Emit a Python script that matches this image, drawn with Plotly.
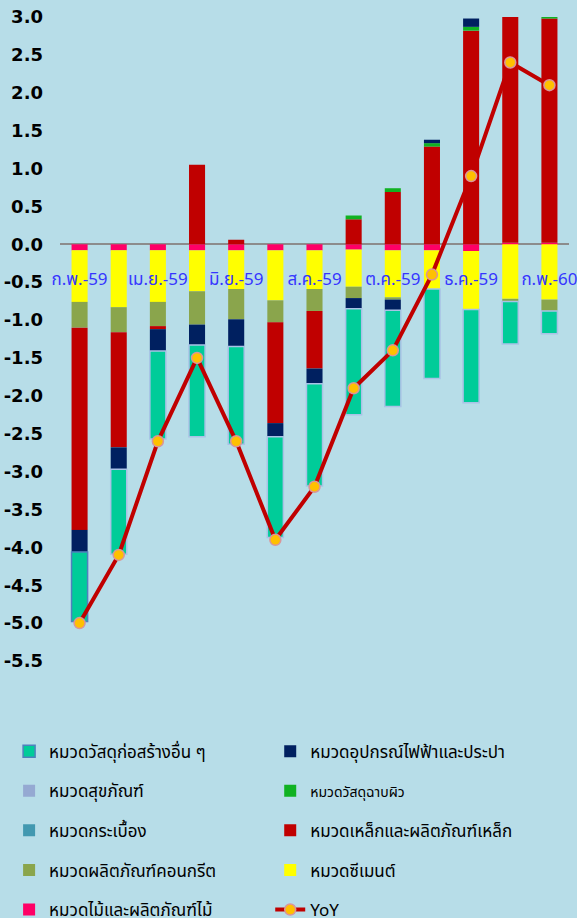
import plotly.graph_objects as go

months = ['ก.พ.-59', 'มี.ค.-59', 'เม.ย.-59', 'พ.ค.-59', 'มิ.ย.-59', 'ก.ค.-59', 'ส.ค.-59',
          'ก.ย.-59', 'ต.ค.-59', 'พ.ย.-59', 'ธ.ค.-59', 'ม.ค.-60', 'ก.พ.-60']
tick_months = ['ก.พ.-59', 'เม.ย.-59', 'มิ.ย.-59', 'ส.ค.-59', 'ต.ค.-59', 'ธ.ค.-59', 'ก.พ.-60']

wood = [-0.08, -0.08, -0.08, -0.08, -0.08, -0.08, -0.08, -0.07, -0.08, -0.08, -0.09, 0.02, 0.02]
cement = [-0.68, -0.75, -0.68, -0.54, -0.51, -0.66, -0.51, -0.49, -0.62, -0.51, -0.77, -0.72, -0.73]
concrete = [-0.34, -0.33, -0.32, -0.44, -0.40, -0.29, -0.29, -0.15, -0.03, 0.0, 0.0, -0.035, -0.15]
steel = [-2.67, -1.52, -0.04, 1.05, 0.06, -1.33, -0.76, 0.33, 0.69, 1.29, 2.82, 3.10, 2.96]
tile = [0, 0, 0, 0, 0, 0, 0, 0, 0, 0, 0, 0, 0]
coating = [0, 0, 0, 0, 0, 0, 0, 0.05, 0.05, 0.045, 0.05, 0, 0.06]
sanitary = [0, 0, 0, 0, 0, 0, 0, 0, 0, 0, 0, 0, 0]
electric = [-0.29, -0.29, -0.29, -0.27, -0.36, -0.18, -0.20, -0.14, -0.14, 0.045, 0.11, 0, 0]
other = [-0.92, -1.12, -1.16, -1.21, -1.29, -1.33, -1.35, -1.40, -1.27, -1.18, -1.23, -0.56, -0.30]
yoy = [-5.0, -4.1, -2.6, -1.5, -2.6, -3.9, -3.2, -1.9, -1.4, -0.4, 0.9, 2.4, 2.1]

y_ticks = [3.0, 2.5, 2.0, 1.5, 1.0, 0.5, 0.0, -0.5, -1.0, -1.5, -2.0, -2.5, -3.0, -3.5, -4.0, -4.5, -5.0, -5.5]

thai_font = "Noto Sans Thai, Noto Sans, sans-serif"
BG = '#b7dde8'

series = [
    # name, values, colour, legend, rank
    ('หมวดไม้และผลิตภัณฑ์ไม้', wood, '#ff0066', 'legend', 5),
    ('หมวดซีเมนต์', cement, '#ffff00', 'legend2', 4),
    ('หมวดผลิตภัณฑ์คอนกรีต', concrete, '#8aa54c', 'legend', 4),
    ('หมวดเหล็กและผลิตภัณฑ์เหล็ก', steel, '#c00000', 'legend2', 3),
    ('หมวดกระเบื้อง', tile, '#4298b0', 'legend', 3),
    ("<span style='font-size:14px'>หมวดวัสดุฉาบผิว</span>", coating, '#10b222', 'legend2', 2),
    ('หมวดสุขภัณฑ์', sanitary, '#95a9d2', 'legend', 2),
    ('หมวดอุปกรณ์ไฟฟ้าและประปา', electric, '#002060', 'legend2', 1),
    ('หมวดวัสดุก่อสร้างอื่น ๆ', other, '#00cc99', 'legend', 1),
]

fig = go.Figure()
for name, vals, col, leg, rank in series:
    line = dict(width=0)
    if vals is other:
        line = dict(width=1.5, color=['#4f81bd'] + ['#a9c2e6'] * (len(months) - 1))
    fig.add_trace(go.Bar(
        x=months, y=vals, name=name, marker=dict(color=col, line=line),
        legend=leg, legendrank=rank, legendgroup=name, width=0.41,
    ))

fig.add_trace(go.Scatter(
    x=months, y=yoy, name='YoY', mode='lines+markers',
    line=dict(color='#c00000', width=4),
    marker=dict(size=11, color='#ffc000', line=dict(color='#d9959a', width=1.5)),
    legend='legend2', legendrank=5, legendgroup='YoY',
))

legend_common = dict(
    orientation='v', traceorder='grouped', tracegroupgap=14.5,
    font=dict(family=thai_font, size=17, color='#000000'),
    bgcolor='rgba(0,0,0,0)', yanchor='top', xanchor='left',
)

fig.update_layout(
    width=577, height=918,
    margin=dict(l=60, r=8, t=17, b=257, autoexpand=False),
    paper_bgcolor=BG, plot_bgcolor=BG,
    barmode='relative',
    showlegend=True,
    legend=dict(x=-0.100, y=-0.1127, **legend_common),
    legend2=dict(x=0.413, y=-0.1127, **legend_common),
    xaxis=dict(
        type='category', categoryorder='array', categoryarray=months,
        range=[-0.5, 12.5], tickmode='array', tickvals=tick_months, ticktext=tick_months,
        anchor='free', position=5.5 / 8.5, showline=False, showgrid=False, ticks='',
        ticklabelstandoff=23, layer='above traces', automargin=False,
        tickfont=dict(family=thai_font, size=17, color='#3535ff'),
    ),
    yaxis=dict(
        range=[-5.5, 3.0], tickmode='array', tickvals=y_ticks,
        ticktext=['%.1f' % v for v in y_ticks],
        showgrid=False, zeroline=True, zerolinecolor='#8c8c8c', zerolinewidth=2,
        showline=False, ticks='', ticklabelstandoff=16, layer='above traces', automargin=False,
        tickfont=dict(family='DejaVu Sans', size=18, color='#000000', weight='bold'),
    ),
)

fig.write_html(
    "out.html",
    config={'displayModeBar': False},
    post_script="document.body.style.margin='0';document.body.style.background='" + BG + "';",
)
